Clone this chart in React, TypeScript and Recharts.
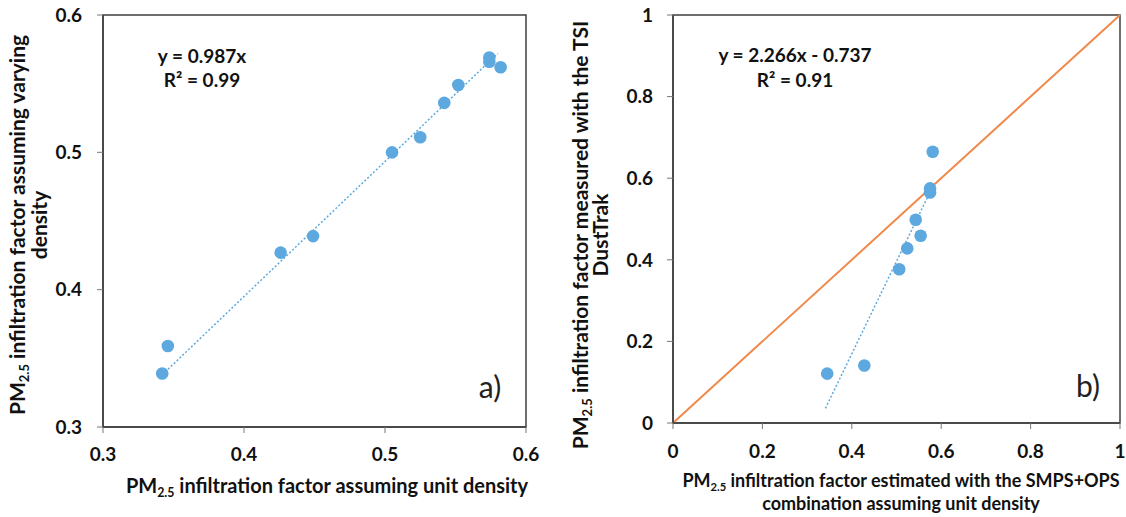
import React from 'react';
import {
  ScatterChart,
  Scatter,
  XAxis,
  YAxis,
  ReferenceLine,
  ReferenceArea,
  Label
} from 'recharts';

// panel a) unit density vs varying density
const unitDensityA = [0.342, 0.346, 0.426, 0.449, 0.505, 0.525, 0.542, 0.552, 0.574, 0.574, 0.582];
const varyingDensityA = [0.339, 0.359, 0.427, 0.439, 0.5, 0.511, 0.536, 0.549, 0.569, 0.566, 0.562];
const trendAX = [0.342, 0.58];
const trendAY = [0.338, 0.572];
const ticksA = [0.3, 0.4, 0.5, 0.6];

// panel b) SMPS+OPS vs DustTrak
const smpsOpsB = [0.345, 0.428, 0.506, 0.524, 0.543, 0.554, 0.575, 0.575, 0.581];
const dustTrakB = [0.121, 0.141, 0.377, 0.428, 0.498, 0.459, 0.575, 0.565, 0.665];
const trendBX = [0.341, 0.575];
const trendBY = [0.036, 0.566];
const identityX = [0, 1];
const identityY = [0, 1];
const ticksB = [0, 0.2, 0.4, 0.6, 0.8, 1];

const dataA = unitDensityA.map((x, i) => ({ x, y: varyingDensityA[i] }));
const dataB = smpsOpsB.map((x, i) => ({ x, y: dustTrakB[i] }));

const FONT = 'Lato, "Open Sans", sans-serif';
const DOT = '#5DA9DF';
const AXIS = '#3f3f3f';

const Dot = (p: any) => <circle cx={p.cx} cy={p.cy} r={6.3} fill={DOT} />;

// text with "PM2.5" subscript in front
const PMText = ({ x, y, rest, rotate = false, size = 17 }: any) => (
  <text
    x={0}
    y={0}
    transform={`translate(${x},${y})${rotate ? ' rotate(-90)' : ''}`}
    textAnchor="middle"
    fontFamily={FONT}
    fontWeight={700}
    fontSize={size}
    fill="#111"
  >
    PM
    <tspan fontSize={size * 0.62} dy={4}>2.5</tspan>
    <tspan dy={-4}>{' ' + rest}</tspan>
  </text>
);

const LineText = ({ x, y, children, rotate = false, size = 17 }: any) => (
  <text
    x={0}
    y={0}
    transform={`translate(${x},${y})${rotate ? ' rotate(-90)' : ''}`}
    textAnchor="middle"
    fontFamily={FONT}
    fontWeight={700}
    fontSize={size}
    fill="#111"
  >
    {children}
  </text>
);

const tickStyle = { fontFamily: FONT, fontWeight: 700, fontSize: 19, fill: '#111' };
const eqStyle = { fontFamily: FONT, fontWeight: 700, fontSize: 19, fill: '#111' };

const fmtB = (v: number) => (v === 0 || v === 1 ? String(v) : v.toFixed(1));

const PanelA = () => (
  <ScatterChart width={560} height={517} margin={{ top: 15, right: 34, bottom: 30, left: 0 }}>
    <XAxis
      type="number"
      dataKey="x"
      domain={[0.3, 0.6]}
      ticks={ticksA}
      tickFormatter={(v) => v.toFixed(1)}
      height={60}
      tick={tickStyle}
      tickSize={6}
      tickMargin={15}
      axisLine={{ stroke: AXIS, strokeWidth: 1.5 }}
      tickLine={{ stroke: '#777' }}
    >
      <Label content={() => <PMText x={327} y={493} size={20} rest="infiltration factor assuming unit density" />} />
    </XAxis>
    <YAxis
      type="number"
      dataKey="y"
      domain={[0.3, 0.6]}
      ticks={ticksA}
      tickFormatter={(v) => v.toFixed(1)}
      width={103}
      tick={tickStyle}
      tickSize={6}
      tickMargin={15}
      axisLine={{ stroke: AXIS, strokeWidth: 1.5 }}
      tickLine={{ stroke: '#777' }}
    >
      <Label
        content={() => (
          <g>
            <PMText x={25} y={225} size={21} rotate rest="infiltration factor assuming varying" />
            <LineText x={47} y={225} size={21} rotate>density</LineText>
          </g>
        )}
      />
    </YAxis>
    <ReferenceArea x1={0.3} x2={0.6} y1={0.3} y2={0.6} fill="none" fillOpacity={0} stroke={AXIS} strokeWidth={1.5} />
    <ReferenceLine
      segment={[{ x: trendAX[0], y: trendAY[0] }, { x: trendAX[1], y: trendAY[1] }]}
      stroke={DOT}
      strokeWidth={1.5}
      strokeDasharray="2 2"
    />
    <Scatter data={dataA} fill={DOT} shape={Dot} isAnimationActive={false} />
    <text x={202} y={63} textAnchor="middle" {...eqStyle}>y = 0.987x</text>
    <text x={202} y={87} textAnchor="middle" {...eqStyle}>R² = 0.99</text>
    <text x={490} y={398} textAnchor="middle" fontFamily={FONT} fontSize={30} fill="#222">a)</text>
  </ScatterChart>
);

const PanelB = () => (
  <ScatterChart width={566} height={517} margin={{ top: 15, right: 6, bottom: 34, left: 0 }}>
    <XAxis
      type="number"
      dataKey="x"
      domain={[0, 1]}
      ticks={ticksB}
      tickFormatter={fmtB}
      height={60}
      tick={tickStyle}
      tickSize={6}
      tickMargin={16}
      axisLine={{ stroke: AXIS, strokeWidth: 1.5 }}
      tickLine={{ stroke: '#777' }}
    >
      <Label
        content={() => (
          <g>
            <PMText x={341} y={487} size={18} rest="infiltration factor estimated with the SMPS+OPS" />
            <LineText x={341} y={510} size={18}>combination assuming unit density</LineText>
          </g>
        )}
      />
    </XAxis>
    <YAxis
      type="number"
      dataKey="y"
      domain={[0, 1]}
      ticks={ticksB}
      tickFormatter={fmtB}
      width={113}
      tick={tickStyle}
      tickSize={6}
      tickMargin={14}
      axisLine={{ stroke: AXIS, strokeWidth: 1.5 }}
      tickLine={{ stroke: '#777' }}
    >
      <Label
        content={() => (
          <g>
            <PMText x={28} y={235} size={21} rotate rest="infiltration factor measured with the TSI" />
            <LineText x={48} y={235} size={21} rotate>DustTrak</LineText>
          </g>
        )}
      />
    </YAxis>
    <ReferenceArea x1={0} x2={1} y1={0} y2={1} fill="none" fillOpacity={0} stroke={AXIS} strokeWidth={1.5} />
    <ReferenceLine
      segment={[{ x: identityX[0], y: identityY[0] }, { x: identityX[1], y: identityY[1] }]}
      stroke="#F0894A"
      strokeWidth={2}
    />
    <ReferenceLine
      segment={[{ x: trendBX[0], y: trendBY[0] }, { x: trendBX[1], y: trendBY[1] }]}
      stroke={DOT}
      strokeWidth={1.5}
      strokeDasharray="2 2"
    />
    <Scatter data={dataB} fill={DOT} shape={Dot} isAnimationActive={false} />
    <text x={235} y={62} textAnchor="middle" {...eqStyle}>y = 2.266x - 0.737</text>
    <text x={235} y={87} textAnchor="middle" {...eqStyle}>R² = 0.91</text>
    <text x={528} y={397} textAnchor="middle" fontFamily={FONT} fontSize={30} fill="#222">b)</text>
  </ScatterChart>
);

export default function App() {
  return (
    <div style={{ position: 'absolute', left: 0, top: 0, width: 1126, height: 517, background: '#fff' }}>
      <div style={{ position: 'absolute', left: 0, top: 0 }}>
        <PanelA />
      </div>
      <div style={{ position: 'absolute', left: 560, top: 0 }}>
        <PanelB />
      </div>
    </div>
  );
}
